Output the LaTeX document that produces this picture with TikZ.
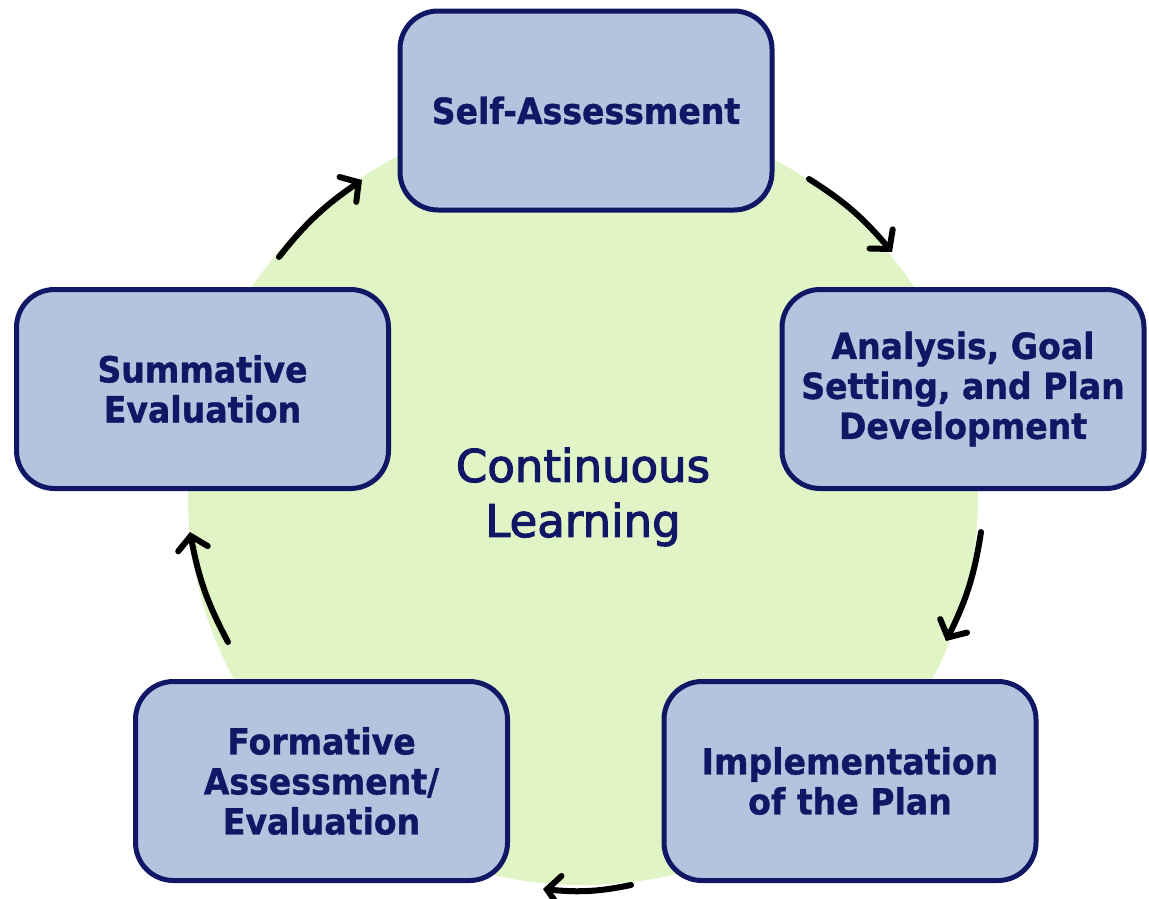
\documentclass[tikz,border=0pt]{standalone}
\usepackage{fontspec}
\setmainfont{DejaVu Sans}
\newfontfamily\boxfont[FakeStretch=0.92,FakeBold=1]{DejaVu Sans}
\newfontfamily\centrefont[FakeBold=2.5]{DejaVu Sans}
\usetikzlibrary{arrows.meta,bending}
\definecolor{navy}{RGB}{16,24,102}
\definecolor{boxfill}{RGB}{180,196,223}
\definecolor{learngreen}{RGB}{224,244,198}
\begin{document}
\begin{tikzpicture}[x=1pt,y=-1pt,
  stage/.style={draw=navy, line width=5pt, fill=boxfill, rounded corners=38pt,
    minimum width=372pt, minimum height=199pt, align=center, text=navy,
    font=\boxfont\bfseries\fontsize{36}{40}\selectfont, inner sep=0pt},
  cyc/.style={line width=6pt, line cap=round, -{Straight Barb[length=13pt,width=30pt,line cap=round]}, bend left=9}]
\useasboundingbox (0,0) rectangle (1149,898);
\fill[learngreen] (583,498) ellipse [x radius=395, y radius=387];

\node[stage] (self) at (586,110.5) {Self-Assessment};
\node[stage, minimum width=362pt] (plan) at (963,389) {Analysis, Goal\\Setting, and Plan\\Development};
\node[stage] (impl) at (850,781) {Implementation\\of the Plan};
\node[stage] (form) at (321.5,781) {Formative\\Assessment/\\Evaluation};
\node[stage] (summ) at (202.5,389) {Summative\\Evaluation};
\node[text=navy, font=\centrefont\fontsize{45}{55}\selectfont, align=center, inner sep=0pt] (centre) at (583,497) {Continuous\\Learning};

\coordinate (a1s) at (279,257); \coordinate (a1e) at (362,180);
\coordinate (a2s) at (809,179); \coordinate (a2e) at (892,252);
\coordinate (a3s) at (981,532); \coordinate (a3e) at (946,641);
\coordinate (a4s) at (631,885); \coordinate (a4e) at (543,889);
\coordinate (a5s) at (228,642); \coordinate (a5e) at (190,532);
\draw[cyc] (a1s) to (a1e);
\draw[cyc] (a2s) to (a2e);
\draw[cyc] (a3s) to (a3e);
\draw[cyc] (a4s) to (a4e);
\draw[cyc] (a5s) to (a5e);
\end{tikzpicture}
\end{document}
